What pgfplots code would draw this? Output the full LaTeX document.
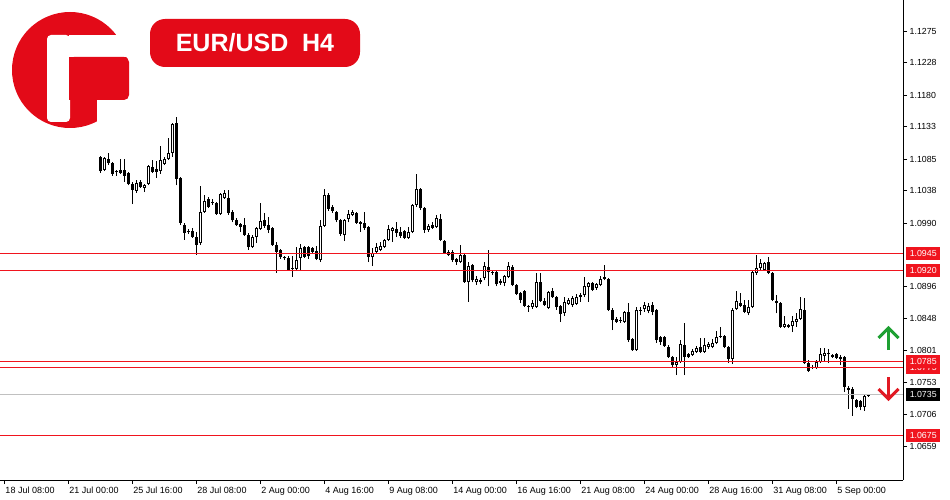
\documentclass[border=0pt]{standalone}
\usepackage{pgfplots}
\pgfplotsset{compat=1.18}
\usepackage{pgfplotstable}
\usepackage{fontspec}
\setmainfont{Liberation Sans}
\definecolor{lvl}{RGB}{240,20,30}
\definecolor{logored}{RGB}{227,10,24}
\definecolor{upgreen}{RGB}{30,160,50}
\definecolor{dnred}{RGB}{225,25,35}
\definecolor{bidgray}{RGB}{192,192,192}

\pgfplotstableread{
i o h l c
24 1.1088 1.1089 1.1064 1.1067
25 1.1069 1.1088 1.1067 1.1086
26 1.1085 1.1094 1.1076 1.1079
27 1.1079 1.1081 1.1060 1.1063
28 1.1066 1.1069 1.1060 1.1065
29 1.1069 1.1085 1.1063 1.1064
30 1.1069 1.1085 1.1051 1.1060
31 1.1064 1.1066 1.1046 1.1048
32 1.1048 1.1051 1.1018 1.1039
33 1.1038 1.1054 1.1035 1.1049
34 1.1051 1.1054 1.1042 1.1043
35 1.1042 1.1048 1.1036 1.1046
36 1.1048 1.1076 1.1046 1.1075
37 1.1073 1.1084 1.1064 1.1066
38 1.1070 1.1082 1.1057 1.1066
39 1.1067 1.1104 1.1063 1.1084
40 1.1078 1.1088 1.1076 1.1085
41 1.1085 1.1116 1.1084 1.1094
42 1.1094 1.1138 1.1088 1.1137
43 1.1138 1.1147 1.1046 1.1055
44 1.1057 1.1058 1.0987 1.0990
45 1.0987 1.0990 1.0965 1.0975
46 1.0977 1.0981 1.0974 1.0976
47 1.0978 1.0983 1.0968 1.0969
48 1.0969 1.0977 1.0943 1.0957
49 1.0960 1.1045 1.0957 1.1006
50 1.1006 1.1032 1.1005 1.1023
51 1.1026 1.1029 1.1012 1.1014
52 1.1021 1.1026 1.1017 1.1020
53 1.1020 1.1021 1.1002 1.1003
54 1.1003 1.1035 1.1002 1.1033
55 1.1027 1.1039 1.1026 1.1035
56 1.1027 1.1039 1.1002 1.1005
57 1.1006 1.1009 1.0991 1.0994
58 1.0994 1.0997 1.0986 1.0987
59 1.0989 1.0990 1.0977 1.0984
60 1.0987 1.0997 1.0971 1.0972
61 1.0972 1.0975 1.0950 1.0954
62 1.0954 1.0972 1.0953 1.0969
63 1.0969 1.0984 1.0960 1.0983
64 1.0981 1.1020 1.0980 1.0993
65 1.0994 1.1005 1.0983 1.0986
66 1.0987 1.0999 1.0975 1.0980
67 1.0983 1.0984 1.0956 1.0957
68 1.0957 1.0962 1.0916 1.0947
69 1.0950 1.0951 1.0937 1.0940
70 1.0938 1.0941 1.0935 1.0939
71 1.0938 1.0941 1.0919 1.0920
72 1.0923 1.0941 1.0910 1.0922
73 1.0922 1.0954 1.0920 1.0935
74 1.0938 1.0959 1.0920 1.0953
75 1.0954 1.0956 1.0938 1.0940
76 1.0954 1.0956 1.0937 1.0941
77 1.0953 1.0954 1.0945 1.0947
78 1.0948 1.0956 1.0935 1.0937
79 1.0935 1.0994 1.0932 1.0986
80 1.0986 1.1040 1.0984 1.1032
81 1.1032 1.1035 1.1008 1.1011
82 1.1014 1.1017 1.1005 1.1008
83 1.1006 1.1008 1.0991 1.0994
84 1.0994 1.0996 1.0971 1.0974
85 1.0972 1.0996 1.0963 1.0994
86 1.0996 1.1009 1.0991 1.1003
87 1.1002 1.1009 1.1000 1.1006
88 1.1005 1.1006 1.0989 1.0990
89 1.0991 1.0993 1.0977 1.0989
90 1.0990 1.1006 1.0980 1.0983
91 1.0984 1.0986 1.0932 1.0940
92 1.0940 1.0953 1.0926 1.0945
93 1.0947 1.0960 1.0945 1.0954
94 1.0950 1.0962 1.0948 1.0956
95 1.0954 1.0966 1.0953 1.0965
96 1.0965 1.0987 1.0963 1.0981
97 1.0978 1.0984 1.0962 1.0983
98 1.0981 1.0991 1.0969 1.0975
99 1.0977 1.0984 1.0968 1.0971
100 1.0978 1.0980 1.0966 1.0968
101 1.0968 1.0984 1.0966 1.0977
102 1.0977 1.1018 1.0975 1.1017
103 1.1017 1.1063 1.1014 1.1040
104 1.1040 1.1042 1.1009 1.1012
105 1.1012 1.1014 1.0975 1.0980
106 1.0980 1.0989 1.0977 1.0986
107 1.0987 1.0991 1.0981 1.0983
108 1.0984 1.1002 1.0983 1.0997
109 1.0996 1.1003 1.0963 1.0965
110 1.0963 1.0965 1.0944 1.0945
111 1.0947 1.0950 1.0941 1.0943
112 1.0947 1.0950 1.0932 1.0935
113 1.0937 1.0938 1.0928 1.0932
114 1.0932 1.0957 1.0931 1.0943
115 1.0943 1.0944 1.0901 1.0902
116 1.0902 1.0932 1.0873 1.0926
117 1.0928 1.0929 1.0902 1.0905
118 1.0902 1.0911 1.0898 1.0907
119 1.0903 1.0908 1.0899 1.0906
120 1.0908 1.0932 1.0905 1.0926
121 1.0925 1.0950 1.0896 1.0917
122 1.0917 1.0920 1.0913 1.0916
123 1.0917 1.0919 1.0896 1.0899
124 1.0904 1.0907 1.0898 1.0901
125 1.0901 1.0913 1.0896 1.0911
126 1.0910 1.0932 1.0908 1.0926
127 1.0925 1.0928 1.0896 1.0898
128 1.0898 1.0899 1.0883 1.0885
129 1.0886 1.0888 1.0871 1.0876
130 1.0889 1.0891 1.0865 1.0867
131 1.0867 1.0868 1.0858 1.0866
132 1.0865 1.0876 1.0862 1.0871
133 1.0865 1.0916 1.0864 1.0902
134 1.0902 1.0916 1.0873 1.0874
135 1.0874 1.0879 1.0867 1.0868
136 1.0864 1.0889 1.0862 1.0888
137 1.0889 1.0894 1.0879 1.0880
138 1.0880 1.0882 1.0861 1.0865
139 1.0867 1.0868 1.0843 1.0855
140 1.0856 1.0880 1.0852 1.0873
141 1.0870 1.0879 1.0868 1.0876
142 1.0868 1.0882 1.0865 1.0879
143 1.0870 1.0885 1.0868 1.0880
144 1.0880 1.0886 1.0873 1.0883
145 1.0883 1.0910 1.0880 1.0896
146 1.0895 1.0902 1.0873 1.0901
147 1.0901 1.0902 1.0889 1.0891
148 1.0894 1.0901 1.0891 1.0899
149 1.0898 1.0911 1.0896 1.0907
150 1.0907 1.0928 1.0905 1.0910
151 1.0907 1.0908 1.0859 1.0861
152 1.0861 1.0864 1.0831 1.0846
153 1.0848 1.0850 1.0842 1.0843
154 1.0846 1.0850 1.0842 1.0845
155 1.0843 1.0859 1.0842 1.0858
156 1.0858 1.0871 1.0813 1.0816
157 1.0818 1.0819 1.0800 1.0801
158 1.0801 1.0865 1.0800 1.0861
159 1.0861 1.0865 1.0853 1.0860
160 1.0862 1.0873 1.0858 1.0868
161 1.0859 1.0871 1.0856 1.0867
162 1.0868 1.0873 1.0853 1.0858
163 1.0861 1.0862 1.0812 1.0816
164 1.0821 1.0822 1.0809 1.0813
165 1.0821 1.0822 1.0806 1.0807
166 1.0806 1.0809 1.0790 1.0791
167 1.0791 1.0793 1.0776 1.0779
168 1.0779 1.0791 1.0764 1.0784
169 1.0784 1.0816 1.0782 1.0810
170 1.0809 1.0842 1.0764 1.0791
171 1.0796 1.0797 1.0790 1.0791
172 1.0794 1.0803 1.0793 1.0800
173 1.0799 1.0807 1.0797 1.0804
174 1.0806 1.0819 1.0797 1.0799
175 1.0799 1.0819 1.0797 1.0809
176 1.0806 1.0813 1.0803 1.0810
177 1.0806 1.0818 1.0804 1.0812
178 1.0812 1.0830 1.0810 1.0821
179 1.0823 1.0836 1.0819 1.0821
180 1.0822 1.0824 1.0804 1.0806
181 1.0806 1.0807 1.0782 1.0788
182 1.0788 1.0864 1.0781 1.0861
183 1.0862 1.0889 1.0861 1.0874
184 1.0871 1.0886 1.0865 1.0867
185 1.0868 1.0876 1.0856 1.0858
186 1.0856 1.0876 1.0853 1.0865
187 1.0865 1.0920 1.0864 1.0917
188 1.0916 1.0943 1.0913 1.0923
189 1.0923 1.0937 1.0920 1.0931
190 1.0920 1.0932 1.0919 1.0931
191 1.0932 1.0940 1.0914 1.0916
192 1.0916 1.0917 1.0874 1.0876
193 1.0874 1.0883 1.0856 1.0871
194 1.0871 1.0873 1.0834 1.0836
195 1.0836 1.0852 1.0834 1.0840
196 1.0839 1.0840 1.0834 1.0836
197 1.0837 1.0852 1.0828 1.0845
198 1.0843 1.0856 1.0836 1.0848
199 1.0848 1.0880 1.0846 1.0862
200 1.0861 1.0879 1.0781 1.0782
201 1.0782 1.0787 1.0769 1.0770
202 1.0776 1.0779 1.0773 1.0775
203 1.0775 1.0787 1.0773 1.0784
204 1.0784 1.0804 1.0782 1.0796
205 1.0793 1.0804 1.0784 1.0797
206 1.0796 1.0803 1.0782 1.0795
207 1.0791 1.0796 1.0790 1.0794
208 1.0796 1.0797 1.0788 1.0790
209 1.0791 1.0794 1.0779 1.0788
210 1.0791 1.0793 1.0739 1.0747
211 1.0745 1.0748 1.0714 1.0742
212 1.0744 1.0747 1.0704 1.0729
213 1.0727 1.0729 1.0715 1.0717
214 1.0726 1.0727 1.0712 1.0717
215 1.0717 1.0735 1.0711 1.0733
216 1.0733 1.0736 1.0732 1.0735
}\ohlc

\begin{document}
\begin{tikzpicture}
\useasboundingbox (0pt,0pt) rectangle (950pt,-500pt);
\begin{axis}[
  at={(0pt,0pt)}, anchor=north west,
  scale only axis, width=903pt, height=480pt,
  xmin=-1.075, xmax=224.7, ymin=1.06085, ymax=1.1321,
  axis x line*=bottom, axis y line*=right,
  axis line style={-, black, line width=1pt},
  tick align=outside, major tick length=4pt,
  tick style={black, line width=0.8pt},
  xtick={0,16,...,208},
  xticklabels={18 Jul 08:00,21 Jul 00:00,25 Jul 16:00,28 Jul 08:00,2 Aug 00:00,4 Aug 16:00,9 Aug 08:00,14 Aug 00:00,16 Aug 16:00,21 Aug 08:00,24 Aug 00:00,28 Aug 16:00,31 Aug 08:00,5 Sep 00:00},
  x tick label style={anchor=north west, inner sep=0pt, xshift=1pt, yshift=-3pt, font=\fontsize{9}{10}\selectfont},
  ytick={1.1275,1.1228,1.1180,1.1133,1.1085,1.1038,1.0990,1.0896,1.0848,1.0801,1.0753,1.0706,1.0659},
  yticklabels={1.1275,1.1228,1.1180,1.1133,1.1085,1.1038,1.0990,1.0896,1.0848,1.0801,1.0753,1.0706,1.0659},
  y tick label style={anchor=west, inner sep=0pt, xshift=2.5pt, font=\fontsize{8.8}{10}\selectfont},
  /pgf/number format/assume math mode=true,
  clip=false,
]
% wicks
\addplot[-, black, line width=1pt, quiver={u=0, v={\thisrow{h}-\thisrow{l}}}]
  table[x=i, y=l] {\ohlc};
% bodies
\addplot[-, black, line width=3pt, quiver={u=0, v={max(abs(\thisrow{c}-\thisrow{o}),0.00015)}}]
  table[x=i, y expr={min(\thisrow{o},\thisrow{c})}] {\ohlc};
% hollow interior of bullish bodies
\addplot[-, white, line width=1pt, quiver={u=0, v={max(\thisrow{c}-\thisrow{o}-0.0003,0)}}]
  table[x=i, y expr={\thisrow{o}+0.00015}] {\ohlc};
% levels
\addplot[bidgray, line width=1pt] coordinates {(-1.075,1.0735) (224.7,1.0735)};
\addplot[lvl, line width=1.1pt] coordinates {(-1.075,1.0945) (224.7,1.0945)};
\addplot[lvl, line width=1.1pt] coordinates {(-1.075,1.0920) (224.7,1.0920)};
\addplot[lvl, line width=1.1pt] coordinates {(-1.075,1.0785) (224.7,1.0785)};
\addplot[lvl, line width=1.1pt] coordinates {(-1.075,1.0775) (224.7,1.0775)};
\addplot[lvl, line width=1.1pt] coordinates {(-1.075,1.0675) (224.7,1.0675)};
% price labels
\tikzset{plab/.style={anchor=west, text=white, minimum width=34pt, minimum height=13pt, inner sep=0pt, xshift=3pt, font=\fontsize{8.8}{10}\selectfont}}
\node[plab, fill=lvl] at (axis cs:224.7,1.0945) {1.0945};
\node[plab, fill=lvl] at (axis cs:224.7,1.0920) {1.0920};
\node[plab, fill=lvl] at (axis cs:224.7,1.0775) {1.0775};
\node[plab, fill=lvl] at (axis cs:224.7,1.0785) {1.0785};
\node[plab, fill=black] at (axis cs:224.7,1.0735) {1.0735};
\node[plab, fill=lvl] at (axis cs:224.7,1.0675) {1.0675};
\end{axis}
\begin{scope}[x=1pt, y=-1pt]
  % logo
  \fill[logored] (70,70) circle (58);
  \fill[white, rounded corners=4pt] (47,35) rectangle (70,122);
  \fill[white] (69,35) rectangle (136,57);
  \fill[white] (97,100) rectangle (136,136);
  \fill[logored, rounded corners=5pt] (69,57) rectangle (129,100);
  \fill[logored] (69,57) rectangle (100,100);
  % title badge
  \fill[logored, rounded corners=15pt] (150,19) rectangle (360,67);
  \node[text=white, font=\bfseries\fontsize{25}{30}\selectfont, inner sep=0pt] at (255,43) {EUR/USD\ \ H4};
  % arrows
  \draw[upgreen, line width=3pt] (888.5,350) -- (888.5,328);
  \draw[upgreen, line width=3pt, line join=miter] (878.5,338) -- (888.5,328) -- (898.5,338);
  \draw[dnred, line width=3pt] (888.5,377) -- (888.5,399);
  \draw[dnred, line width=3pt, line join=miter] (878.5,389) -- (888.5,399) -- (898.5,389);
\end{scope}
\end{tikzpicture}
\end{document}
